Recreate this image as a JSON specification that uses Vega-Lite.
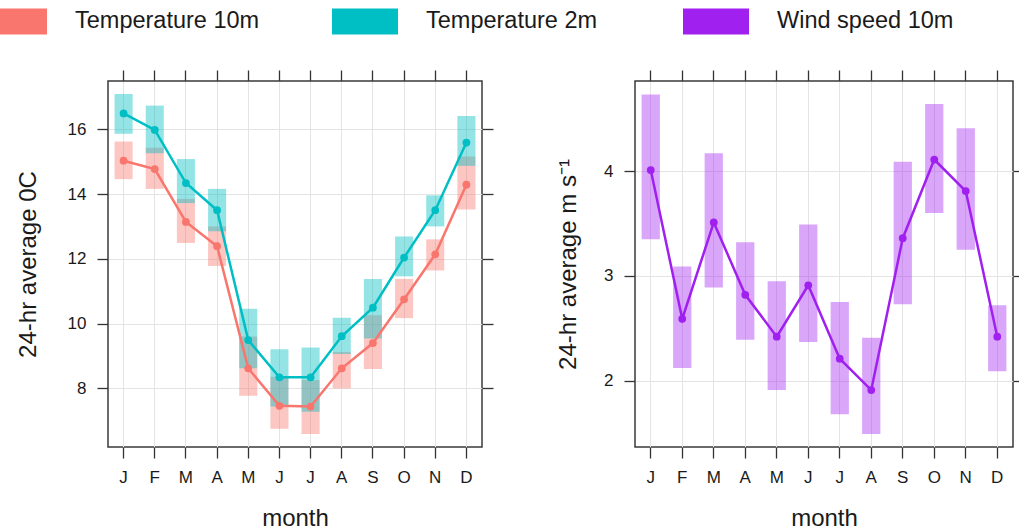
{
  "$schema": "https://vega.github.io/schema/vega-lite/v6.json",
  "padding": {"left": -19, "top": -12, "right": 0, "bottom": 0},
  "background": "white",
  "config": {
    "font": "Liberation Sans",
    "view": {"stroke": "#3a3a3a", "strokeWidth": 1.5},
    "axis": {
      "domain": false,
      "tickColor": "#333333",
      "tickSize": 11,
      "tickWidth": 1.3,
      "labelFont": "Liberation Sans",
      "labelFontSize": 17,
      "labelColor": "#1a1a1a",
      "labelPadding": 11,
      "titleFont": "Liberation Sans",
      "titleFontSize": 24,
      "titleFontWeight": "normal",
      "titleColor": "#1a1a1a",
      "gridColor": "#e4e4e4",
      "gridWidth": 1
    }
  },
  "data": {
    "values": [
      {"m": 1, "s": "Temperature 10m", "v": 15.03, "lo": 14.46, "hi": 15.62},
      {"m": 2, "s": "Temperature 10m", "v": 14.77, "lo": 14.16, "hi": 15.43},
      {"m": 3, "s": "Temperature 10m", "v": 13.14, "lo": 12.49, "hi": 13.85},
      {"m": 4, "s": "Temperature 10m", "v": 12.39, "lo": 11.78, "hi": 13.0},
      {"m": 5, "s": "Temperature 10m", "v": 8.62, "lo": 7.77, "hi": 9.6},
      {"m": 6, "s": "Temperature 10m", "v": 7.46, "lo": 6.75, "hi": 8.36},
      {"m": 7, "s": "Temperature 10m", "v": 7.44, "lo": 6.59, "hi": 8.26},
      {"m": 8, "s": "Temperature 10m", "v": 8.62, "lo": 8.0, "hi": 9.12},
      {"m": 9, "s": "Temperature 10m", "v": 9.4, "lo": 8.6, "hi": 10.26},
      {"m": 10, "s": "Temperature 10m", "v": 10.75, "lo": 10.17, "hi": 11.38},
      {"m": 11, "s": "Temperature 10m", "v": 12.14, "lo": 11.64, "hi": 12.6},
      {"m": 12, "s": "Temperature 10m", "v": 14.29, "lo": 13.52, "hi": 15.16},
      {"m": 1, "s": "Temperature 2m", "v": 16.49, "lo": 15.86, "hi": 17.09},
      {"m": 2, "s": "Temperature 2m", "v": 15.98, "lo": 15.26, "hi": 16.73},
      {"m": 3, "s": "Temperature 2m", "v": 14.34, "lo": 13.72, "hi": 15.08},
      {"m": 4, "s": "Temperature 2m", "v": 13.5, "lo": 12.85, "hi": 14.16},
      {"m": 5, "s": "Temperature 2m", "v": 9.49, "lo": 8.62, "hi": 10.46},
      {"m": 6, "s": "Temperature 2m", "v": 8.34, "lo": 7.44, "hi": 9.21},
      {"m": 7, "s": "Temperature 2m", "v": 8.34, "lo": 7.28, "hi": 9.26},
      {"m": 8, "s": "Temperature 2m", "v": 9.61, "lo": 9.06, "hi": 10.18},
      {"m": 9, "s": "Temperature 2m", "v": 10.49, "lo": 9.54, "hi": 11.38},
      {"m": 10, "s": "Temperature 2m", "v": 12.04, "lo": 11.46, "hi": 12.69},
      {"m": 11, "s": "Temperature 2m", "v": 13.5, "lo": 13.0, "hi": 13.96},
      {"m": 12, "s": "Temperature 2m", "v": 15.59, "lo": 14.87, "hi": 16.41},
      {"m": 1, "s": "Wind speed 10m", "v": 4.01, "lo": 3.35, "hi": 4.73},
      {"m": 2, "s": "Wind speed 10m", "v": 2.59, "lo": 2.12, "hi": 3.09},
      {"m": 3, "s": "Wind speed 10m", "v": 3.51, "lo": 2.89, "hi": 4.17},
      {"m": 4, "s": "Wind speed 10m", "v": 2.82, "lo": 2.39, "hi": 3.32},
      {"m": 5, "s": "Wind speed 10m", "v": 2.42, "lo": 1.91, "hi": 2.95},
      {"m": 6, "s": "Wind speed 10m", "v": 2.91, "lo": 2.37, "hi": 3.49},
      {"m": 7, "s": "Wind speed 10m", "v": 2.21, "lo": 1.68, "hi": 2.75},
      {"m": 8, "s": "Wind speed 10m", "v": 1.91, "lo": 1.49, "hi": 2.41},
      {"m": 9, "s": "Wind speed 10m", "v": 3.36, "lo": 2.73, "hi": 4.09},
      {"m": 10, "s": "Wind speed 10m", "v": 4.11, "lo": 3.6, "hi": 4.64},
      {"m": 11, "s": "Wind speed 10m", "v": 3.81, "lo": 3.25, "hi": 4.41},
      {"m": 12, "s": "Wind speed 10m", "v": 2.42, "lo": 2.09, "hi": 2.72}
    ]
  },
  "spacing": 60,
  "hconcat": [
    {
      "width": 374,
      "height": 366,
      "transform": [{"filter": "datum.s != 'Wind speed 10m'"}],
      "resolve": {"axis": {"x": "independent", "y": "independent"}},
      "layer": [
        {
          "mark": {"type": "bar", "width": {"band": 0.58}, "opacity": 0.42},
          "encoding": {
            "x": {"field": "m", "type": "ordinal", "scale": {"type": "band", "paddingInner": 0, "paddingOuter": 0},
              "axis": {"orient": "bottom", "title": "month", "labelAngle": 0, "labelPadding": 11, "titlePadding": 21, "grid": true,
                "labelExpr": "['J','F','M','A','M','J','J','A','S','O','N','D'][datum.value-1]"}},
            "y": {"field": "lo", "type": "quantitative", "scale": {"domain": [6.19, 17.49], "nice": false, "zero": false},
              "axis": {"orient": "left", "title": "24-hr average 0C", "values": [8, 10, 12, 14, 16], "grid": true, "titlePadding": 27}},
            "y2": {"field": "hi"},
            "color": {"field": "s", "type": "nominal",
              "scale": {"domain": ["Temperature 10m", "Temperature 2m", "Wind speed 10m"], "range": ["#F8766D", "#00BFC4", "#A020F0"]},
              "legend": {"orient": "none", "legendX": -127, "legendY": -93, "direction": "horizontal", "title": null,
                "symbolType": "M-1,-0.394L1,-0.394L1,0.394L-1,0.394Z", "symbolSize": 4356, "symbolOpacity": 1, "symbolStrokeWidth": 0,
                "labelFontSize": 23.5, "labelFont": "Liberation Sans", "labelColor": "#1a1a1a", "labelOffset": 28,
                "columnPadding": 72, "gridAlign": "all", "padding": 0, "labelLimit": 400}}
          }
        },
        {
          "mark": {"type": "line", "strokeWidth": 2.5},
          "encoding": {
            "x": {"field": "m", "type": "ordinal",
              "axis": {"orient": "top", "title": null, "labels": false, "grid": false}},
            "y": {"field": "v", "type": "quantitative",
              "axis": {"orient": "right", "title": null, "labels": false, "grid": false, "values": [8, 10, 12, 14, 16]}},
            "color": {"field": "s", "type": "nominal", "legend": null}
          }
        },
        {
          "mark": {"type": "circle", "size": 60, "opacity": 1},
          "encoding": {
            "x": {"field": "m", "type": "ordinal", "axis": null},
            "y": {"field": "v", "type": "quantitative", "axis": null},
            "color": {"field": "s", "type": "nominal", "legend": null}
          }
        }
      ]
    },
    {
      "width": 378,
      "height": 366,
      "transform": [{"filter": "datum.s == 'Wind speed 10m'"}],
      "resolve": {"axis": {"x": "independent", "y": "independent"}},
      "layer": [
        {
          "mark": {"type": "bar", "width": {"band": 0.58}, "opacity": 0.4},
          "encoding": {
            "x": {"field": "m", "type": "ordinal", "scale": {"type": "band", "paddingInner": 0, "paddingOuter": 0},
              "axis": {"orient": "bottom", "title": "month", "labelAngle": 0, "labelPadding": 11, "titlePadding": 21, "grid": true,
                "labelExpr": "['J','F','M','A','M','J','J','A','S','O','N','D'][datum.value-1]"}},
            "y": {"field": "lo", "type": "quantitative", "scale": {"domain": [1.367, 4.86], "nice": false, "zero": false},
              "axis": {"orient": "left", "title": "24-hr average m s⁻¹", "values": [2, 3, 4], "grid": true, "titlePadding": 23}},
            "y2": {"field": "hi"},
            "color": {"field": "s", "type": "nominal", "legend": null}
          }
        },
        {
          "mark": {"type": "line", "strokeWidth": 2.5},
          "encoding": {
            "x": {"field": "m", "type": "ordinal",
              "axis": {"orient": "top", "title": null, "labels": false, "grid": false}},
            "y": {"field": "v", "type": "quantitative",
              "axis": {"orient": "right", "title": null, "labels": false, "grid": false, "values": [2, 3, 4]}},
            "color": {"field": "s", "type": "nominal", "legend": null}
          }
        },
        {
          "mark": {"type": "circle", "size": 60, "opacity": 1},
          "encoding": {
            "x": {"field": "m", "type": "ordinal", "axis": null},
            "y": {"field": "v", "type": "quantitative", "axis": null},
            "color": {"field": "s", "type": "nominal", "legend": null}
          }
        }
      ]
    }
  ]
}
